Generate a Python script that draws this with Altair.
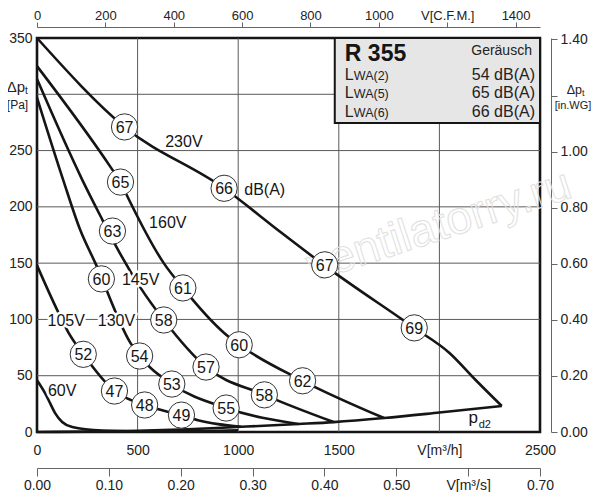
import altair as alt
import pandas as pd

# ---------------- data ----------------
v_230 = [0, 435, 930, 1215, 1425, 1875, 2050, 2180, 2310]
p_230 = [350, 271, 216.5, 177, 148.5, 92.5, 70.2, 46.2, 23.1]

v_160 = [0, 365, 415, 450, 630, 725, 930, 1005, 1320, 1725]
p_160 = [325, 235.5, 222, 209, 150, 128, 88, 77.5, 45.5, 12.4]

v_145 = [0, 225, 325, 390, 515, 630, 840, 1130, 1475]
p_145 = [313.5, 224, 188.5, 166, 128, 99.5, 57.7, 33, 8.8]

v_130 = [0, 130, 215, 290, 465, 510, 670, 940, 1300]
p_130 = [297, 224, 179.4, 150, 79, 67.5, 42.6, 21.3, 7.1]

v_105 = [0, 105, 155, 230, 385, 535, 715, 800, 900, 1015]
p_105 = [148, 106.6, 88.8, 69, 36.4, 24, 15, 10.5, 7, 4.6]

v_60 = [0, 40, 65, 90, 125, 175, 325, 490, 700, 1000]
p_60 = [46, 34.5, 25.6, 16.7, 8.9, 4.4, 1.2, 0.5, 0.6, 1.5]

v_pd2 = [0, 250, 500, 750, 1015, 1300, 1475, 1725, 2000, 2310]
p_pd2 = [0, 0.3, 1.1, 2.4, 4.6, 7.1, 8.8, 12.4, 17.3, 23.1]

# sound level circles
circ_v = [435, 930, 1430, 1875, 415, 725, 1005, 1320, 375, 630, 840, 1130,
          320, 510, 670, 940, 230, 385, 535, 718]
circ_p = [271, 216.5, 148.5, 92.5, 222, 128, 77.5, 45.5, 178.5, 99.5, 57.7, 33,
          136, 67.5, 42.6, 21.3, 69, 36.4, 24, 15]
circ_t = ['67', '66', '67', '69', '65', '61', '60', '62', '63', '58', '57', '58',
          '60', '54', '53', '55', '52', '47', '48', '49']

# voltage labels
lab_t = ['230V', '160V', '145V', '130V', '105V', '60V']
lab_v = [730, 650, 515, 395, 145, 125]
lab_p = [257.6, 185.7, 135, 99, 99, 36.4]

# grid
grid_v = [500, 1000, 1500, 2000]
grid_p = [50, 100, 150, 200, 250, 300]

# axis ticks
ticks_m3h = [0, 500, 1000, 1500, 2000, 2500]
ticks_pa = [0, 50, 100, 150, 200, 250, 300, 350]
ticks_cfm = [0, 200, 400, 600, 800, 1000, 1200, 1400]
ticks_m3s = [0.0, 0.1, 0.2, 0.3, 0.4, 0.5, 0.6, 0.7]
ticks_inwg = [0.0, 0.2, 0.4, 0.6, 0.8, 1.0, 1.2, 1.4]

# info box
box_v = [1480]
box_v2 = [2500]
box_p = [274.5]
box_p2 = [350]
lwa_sub = ['WA(2)', 'WA(5)', 'WA(6)']
lwa_val = ['54 dB(A)', '65 dB(A)', '66 dB(A)']
lwa_p = [312.7, 296.7, 279.8]

FONT = 'Liberation Sans'
INK = '#151515'
W, H = 503, 394

# ---------------- tables ----------------
curves = []
for name, vv, pp in [('230V', v_230, p_230), ('160V', v_160, p_160),
                     ('145V', v_145, p_145), ('130V', v_130, p_130),
                     ('105V', v_105, p_105), ('60V', v_60, p_60),
                     ('pd2', v_pd2, p_pd2)]:
    for a, b in zip(vv, pp):
        curves.append({'s': name, 'V': a, 'P': b})
curves = pd.DataFrame(curves)
circles = pd.DataFrame({'V': circ_v, 'P': circ_p, 't': circ_t})
labels = pd.DataFrame({'V': lab_v, 'P': lab_p, 't': lab_t})
gridv = pd.DataFrame({'V': grid_v})
gridp = pd.DataFrame({'P': grid_p})
box = pd.DataFrame({'V': box_v, 'V2': box_v2, 'P': box_p, 'P2': box_p2})
lwa = pd.DataFrame({'sub': lwa_sub, 'val': lwa_val, 'P': lwa_p})

xs = alt.Scale(domain=[0, 2500], nice=False, zero=False)
ys = alt.Scale(domain=[0, 350], nice=False, zero=False)
x_axis = alt.Axis(values=ticks_m3h, format='d', title=None, ticks=False, domain=False,
                  grid=False, labelPadding=11, labelFlush=False, labelOverlap=False,
                  labelExpr="datum.value == 2000 ? 'V[m³/h]' : datum.label")
y_axis = alt.Axis(values=ticks_pa, format='d', title=None, ticks=False, domain=False,
                  grid=False, labelPadding=5, labelFlush=False, labelOverlap=False,
                  labelExpr="datum.value == 300 ? '' : datum.label")


def X(f):
    return alt.X(f, type='quantitative', scale=xs, axis=x_axis)


def Y(f):
    return alt.Y(f, type='quantitative', scale=ys, axis=y_axis)


grid_x = alt.Chart(gridv).mark_rule(color='#5a5a5a', strokeWidth=1).encode(x=X('V'))
grid_y = alt.Chart(gridp).mark_rule(color='#5a5a5a', strokeWidth=1).encode(y=Y('P'))

watermark = alt.Chart(pd.DataFrame({'a': [0]})).mark_text(
    text='ventilatorry.ru', font=FONT, fontSize=46, angle=342, fillOpacity=0,
    stroke='#e0e0e0', strokeWidth=1
).encode(x=alt.value(402), y=alt.value(188))

lines = alt.Chart(curves).mark_line(color=INK, strokeWidth=2.6, interpolate='monotone',
                                    strokeJoin='round').encode(
    x=X('V'), y=Y('P'), detail='s:N')

boxrect = alt.Chart(box).mark_rect(fill='#e6e6e6', stroke=INK, strokeWidth=2).encode(
    x=X('V'), x2='V2', y=Y('P'), y2='P2')

circ = alt.Chart(circles).mark_point(shape='circle', filled=True, fill='white',
                                     stroke='#333333', strokeWidth=1, size=690,
                                     opacity=1).encode(x=X('V'), y=Y('P'))
circ_txt = alt.Chart(circles).mark_text(font=FONT, fontSize=16, color=INK, dy=1).encode(
    x=X('V'), y=Y('P'), text='t:N')

halo = alt.Chart(labels).mark_text(font=FONT, fontSize=16, fill='white', stroke='white',
                                   strokeWidth=5, strokeJoin='round').encode(
    x=X('V'), y=Y('P'), text='t:N')
lab = alt.Chart(labels).mark_text(font=FONT, fontSize=16, color=INK).encode(
    x=X('V'), y=Y('P'), text='t:N')

one = pd.DataFrame({'V': [1030], 'P': [215]})
dba = alt.Chart(one).mark_text(text='dB(A)', font=FONT, fontSize=16, color=INK,
                               align='left').encode(x=X('V'), y=Y('P'))

pd_p = alt.Chart(pd.DataFrame({'V': [2145], 'P': [8]})).mark_text(
    text='p', font=FONT, fontSize=17, color=INK, align='left', baseline='alphabetic'
).encode(x=X('V'), y=Y('P'))
pd_s = alt.Chart(pd.DataFrame({'V': [2195], 'P': [3.5]})).mark_text(
    text='d2', font=FONT, fontSize=11, color=INK, align='left', baseline='alphabetic'
).encode(x=X('V'), y=Y('P'))

r355 = alt.Chart(pd.DataFrame({'V': [1530], 'P': [329.6]})).mark_text(
    text='R 355', font=FONT, fontSize=23, fontWeight='bold', color=INK, align='left',
    baseline='alphabetic').encode(x=X('V'), y=Y('P'))
ger = alt.Chart(pd.DataFrame({'V': [2460], 'P': [334.9]})).mark_text(
    text='Geräusch', font=FONT, fontSize=14, color='#222', align='right',
    baseline='alphabetic').encode(x=X('V'), y=Y('P'))
lwa_L = alt.Chart(lwa).mark_text(text='L', font=FONT, fontSize=16, color='#222',
                                 align='left', baseline='alphabetic').encode(
    x=alt.value((1530 / 2500) * W), y=Y('P'))
lwa_S = alt.Chart(lwa).mark_text(font=FONT, fontSize=12.5, color='#222', align='left',
                                 baseline='alphabetic').encode(
    x=alt.value((1530 / 2500) * W + 9), y=Y('P'), text='sub:N')
lwa_V = alt.Chart(lwa).mark_text(font=FONT, fontSize=16, color='#222', align='right',
                                 baseline='alphabetic').encode(
    x=alt.value((2475 / 2500) * W), y=Y('P'), text='val:N')


# axis titles (Δp_t)
def ann(txt, x, y, size, align='center'):
    return alt.Chart(pd.DataFrame({'a': [0]})).mark_text(
        text=txt, font=FONT, fontSize=size, color='#222', align=align,
        baseline='middle').encode(x=alt.value(x), y=alt.value(y))


titles = [
    ann('Δp', -12, 49, 15, 'right'), ann('t', -12, 53, 10, 'left'), ann('[Pa]', -19.5, 67, 12),
    ann('Δp', 545, 52, 12.5, 'right'), ann('t', 545, 55, 9, 'left'), ann('[in.WG]', 536, 67.5, 11),
]

inner = alt.layer(grid_x, grid_y, watermark, lines, boxrect, circ, circ_txt, halo, lab,
                  dba, pd_p, pd_s, r355, ger, lwa_L, lwa_S, lwa_V, *titles)

dummy = pd.DataFrame({'c': [0]})
ax_cfm = alt.Chart(dummy).mark_point(opacity=0).encode(
    x=alt.X('c:Q', scale=alt.Scale(domain=[0, 1471.4], nice=False, zero=False),
            axis=alt.Axis(orient='top', values=ticks_cfm, format='d', title=None,
                          offset=11, tickSize=5, labelPadding=0, labelFontSize=13,
                          labelFlush=False, labelOverlap=False, domainColor='#666',
                          tickColor='#666',
                          labelExpr="datum.value == 1200 ? 'V[C.F.M.]' : datum.label")))
ax_m3s = alt.Chart(dummy).mark_point(opacity=0).encode(
    x=alt.X('c:Q', scale=alt.Scale(domain=[0, 0.7], nice=False, zero=False),
            axis=alt.Axis(orient='bottom', values=ticks_m3s, format='.2f', title=None,
                          offset=36, tickSize=8, labelPadding=2, labelFlush=False,
                          labelOverlap=False, domainColor='#666', tickColor='#666',
                          labelExpr="abs(datum.value - 0.6) < 0.001 ? 'V[m³/s]' : datum.label")))
ax_inwg = alt.Chart(dummy).mark_point(opacity=0).encode(
    y=alt.Y('c:Q', scale=alt.Scale(domain=[0, 1.4051], nice=False, zero=False),
            axis=alt.Axis(orient='right', values=ticks_inwg, format='.2f', title=None,
                          offset=11, tickSize=6, labelPadding=3, labelFlush=False,
                          labelOverlap=False, domainColor='#666', tickColor='#666',
                          labelExpr="abs(datum.value - 1.2) < 0.001 ? '' : datum.label")))

chart = alt.layer(inner, ax_cfm, ax_m3s, ax_inwg).resolve_scale(
    x='independent', y='independent'
).properties(
    width=W, height=H,
    autosize=alt.AutoSizeParams(type='none'),
    padding={'left': 29, 'top': 30, 'right': 52, 'bottom': 60},
).configure_view(
    stroke=INK, strokeWidth=2.6
).configure_axis(
    labelFont=FONT, labelFontSize=14, labelColor='#222'
)

chart.save('out.html', embed_options={'renderer': 'svg', 'actions': False})
